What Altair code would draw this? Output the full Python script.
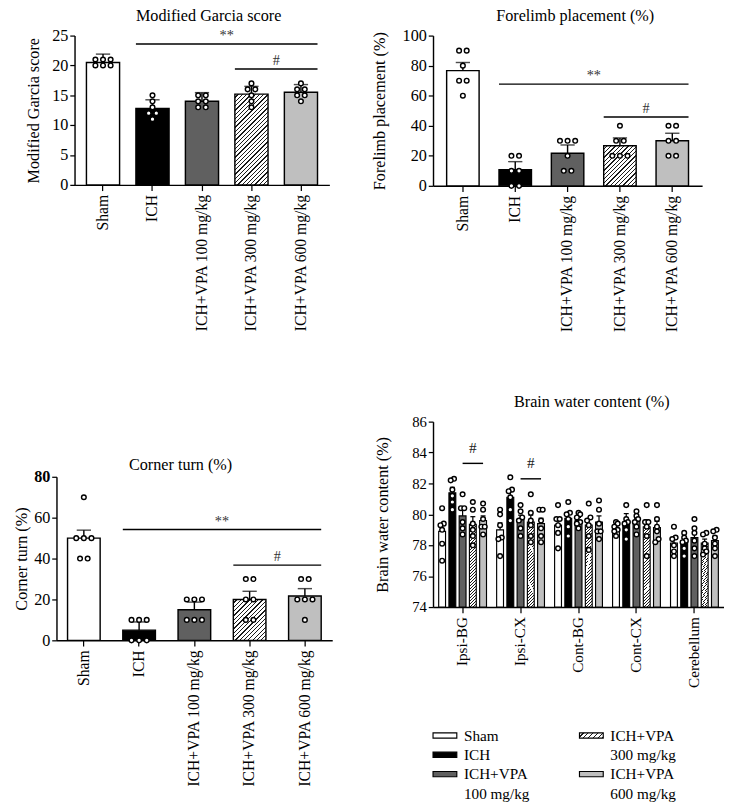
import altair as alt
import pandas as pd

FONT = "Liberation Serif"
GROUPS = ["Sham", "ICH", "ICH+VPA 100 mg/kg", "ICH+VPA 300 mg/kg", "ICH+VPA 600 mg/kg"]
GRAY = "#606060"
DOT = "#bfbfbf"

# ---- Modified Garcia score ----
garcia_ticks = [0, 5, 10, 15, 20, 25]
garcia_means = [20.5, 12.8, 14.0, 15.2, 15.5]
garcia_errs = [1.4, 1.45, 1.45, 1.3, 1.3]
garcia_points = [[21, 21, 21, 20, 20, 20], [15, 14, 13, 12, 12, 11], [15, 15, 14, 14, 13, 13],
                 [17, 16, 16, 15, 14, 13], [17, 16, 16, 15, 15, 14]]
garcia_marks = [("ICH", "ICH+VPA 600 mg/kg", 23.6, "**"), ("ICH+VPA 300 mg/kg", "ICH+VPA 600 mg/kg", 19.4, "#")]

# ---- Forelimb placement ----
forelimb_ticks = [0, 20, 40, 60, 80, 100]
forelimb_means = [76.7, 10.7, 21.7, 26.7, 30.0]
forelimb_errs = [5.4, 5.4, 5.5, 5.2, 5.0]
forelimb_points = [[90, 90, 80, 70, 70, 60], [20, 20, 10, 10, 0, 0], [30, 30, 30, 20, 10, 10],
                   [40, 30, 30, 20, 20, 20], [40, 40, 30, 30, 20, 20]]
forelimb_marks = [("ICH", "ICH+VPA 600 mg/kg", 67.7, "**"), ("ICH+VPA 300 mg/kg", "ICH+VPA 600 mg/kg", 45.8, "#")]

# ---- Corner turn ----
corner_ticks = [0, 20, 40, 60, 80]
corner_means = [50.0, 5.0, 15.0, 20.0, 21.7]
corner_errs = [3.9, 4.0, 3.7, 4.0, 3.6]
corner_points = [[70, 50, 50, 50, 40, 40], [10, 10, 10, 0, 0, 0], [20, 20, 20, 10, 10, 10],
                 [30, 30, 20, 20, 10, 10], [30, 30, 20, 20, 20, 10]]
corner_marks = [("ICH", "ICH+VPA 600 mg/kg", 54.2, "**"), ("ICH+VPA 300 mg/kg", "ICH+VPA 600 mg/kg", 36.8, "#")]

# ---- Brain water content ----
regions = ["Ipsi-BG", "Ipsi-CX", "Cont-BG", "Cont-CX", "Cerebellum"]
bwc_ticks = [74, 76, 78, 80, 82, 84, 86]
ipsi_bg_means = [78.9, 81.4, 79.9, 79.35, 79.6]
ipsi_cx_means = [79.0, 81.1, 79.65, 79.5, 79.4]
cont_bg_means = [79.3, 79.75, 79.6, 79.3, 79.5]
cont_cx_means = [79.1, 79.45, 79.55, 79.2, 79.15]
cereb_means = [78.15, 78.2, 78.5, 78.15, 78.3]
ipsi_bg_errs = [0.5, 0.35, 0.4, 0.5, 0.3]
ipsi_cx_errs = [0.45, 0.4, 0.3, 0.45, 0.35]
cont_bg_errs = [0.4, 0.3, 0.2, 0.4, 0.4]
cont_cx_errs = [0.15, 0.6, 0.2, 0.45, 0.4]
cereb_errs = [0.3, 0.25, 0.35, 0.25, 0.3]
ipsi_bg_points = [[80.4, 79.4, 79.3, 79.0, 78.1, 77.0], [82.3, 82.2, 81.6, 81.2, 80.8, 80.3],
                  [81.3, 80.4, 80.4, 79.5, 79.1, 78.7], [80.8, 80.3, 79.4, 79.0, 78.6, 78.0],
                  [80.7, 80.3, 79.7, 79.2, 79.2, 78.7]]
ipsi_cx_points = [[80.3, 80.0, 79.3, 78.5, 78.4, 77.3], [82.4, 81.6, 81.5, 81.1, 80.3, 79.6],
                  [80.6, 80.2, 79.8, 79.6, 79.1, 78.6], [81.3, 80.1, 79.6, 79.3, 78.6, 78.2],
                  [80.3, 80.3, 79.6, 79.1, 78.6, 78.2]]
cont_bg_points = [[80.6, 79.7, 79.7, 79.3, 78.8, 77.8], [80.8, 80.1, 80.0, 79.7, 79.2, 78.6],
                  [80.1, 80.0, 79.8, 79.5, 79.4, 79.1], [80.7, 79.8, 79.6, 79.3, 78.6, 77.7],
                  [80.9, 80.3, 79.4, 78.9, 78.9, 78.4]]
cont_cx_points = [[79.5, 79.4, 79.2, 79.0, 78.9, 78.6], [80.6, 79.7, 79.5, 79.4, 79.0, 78.4],
                  [80.2, 79.9, 79.7, 79.5, 79.2, 78.7], [80.6, 79.5, 79.5, 79.2, 78.6, 77.3],
                  [80.6, 79.7, 79.2, 78.9, 78.4, 78.2]]
cereb_points = [[79.2, 78.5, 78.4, 78.0, 77.6, 77.3], [78.8, 78.5, 78.3, 78.2, 77.8, 77.3],
                [79.7, 79.1, 78.8, 78.3, 77.8, 77.3], [78.8, 78.7, 78.1, 77.8, 77.6, 77.4],
                [79.0, 78.9, 78.5, 78.1, 77.8, 77.3]]
bwc_marks = [("Ipsi-BG", "ICH+VPA 100 mg/kg", "ICH+VPA 600 mg/kg", 83.3, "#"),
             ("Ipsi-CX", "ICH+VPA 100 mg/kg", "ICH+VPA 600 mg/kg", 82.3, "#")]

bwc_means = [ipsi_bg_means, ipsi_cx_means, cont_bg_means, cont_cx_means, cereb_means]
bwc_errs = [ipsi_bg_errs, ipsi_cx_errs, cont_bg_errs, cont_cx_errs, cereb_errs]
bwc_points = [ipsi_bg_points, ipsi_cx_points, cont_bg_points, cont_cx_points, cereb_points]


# ---------------- helpers ----------------
def hatch(w, h, spacing, frac=0.3, dark="#1a1a1a"):
    r = h / w
    k = (1 + r) / (1 + r * r)
    n = max(2, round(w * (1 + r) / spacing))
    stops = []
    for i in range(n):
        a, b, c = i / n, (i + 1 - frac) / n, (i + 1) / n
        stops += [{"offset": round(a, 5), "color": "#ffffff"}, {"offset": round(b, 5), "color": "#ffffff"},
                  {"offset": round(b, 5), "color": dark}, {"offset": round(c, 5), "color": dark}]
    return {"gradient": "linear", "x1": 0, "y1": 0, "x2": round(k, 5), "y2": round(k * r, 5), "stops": stops}


def fill_cond(grad):
    d = alt.datum.group
    return (alt.when(d == GROUPS[0]).then(alt.value("white"))
            .when(d == GROUPS[1]).then(alt.value("black"))
            .when(d == GROUPS[2]).then(alt.value(GRAY))
            .when(d == GROUPS[3]).then(alt.value(grad))
            .otherwise(alt.value(DOT)))


def spread(vals, tol, step):
    idx = sorted(range(len(vals)), key=lambda i: vals[i])
    clusters = []
    for i in idx:
        if clusters and vals[i] - vals[clusters[-1][0]] <= tol + 1e-9:
            clusters[-1].append(i)
        else:
            clusters.append([i])
    off = [0.0] * len(vals)
    for c in clusters:
        m = len(c)
        for k, i in enumerate(c):
            off[i] = (k - (m - 1) / 2) * step
    return off


def x_axis(size=16.5):
    return alt.Axis(title=None, labelAngle=270, labelFont=FONT, labelFontSize=size, labelColor="black",
                    labelPadding=4, tickSize=6, tickColor="black", tickWidth=1.3, domainColor="black",
                    domainWidth=1.5, grid=False, labelLimit=300)


def y_axis(title, values, tpad, size=17, bold_top=False, offset=0):
    kw = dict(title=title, values=values, titleFont=FONT, titleFontSize=17, titleFontWeight="normal",
              titleColor="black", titlePadding=tpad, labelFont=FONT, labelFontSize=size, labelColor="black",
              labelPadding=2, tickSize=5, tickColor="black", tickWidth=1.3, domainColor="black",
              domainWidth=1.5, grid=False, offset=offset)
    if bold_top:
        kw["labelFontWeight"] = {"condition": {"test": f"datum.value == {values[-1]}", "value": "bold"},
                                 "value": "normal"}
    return alt.Axis(**kw)


def title_params(text, dx, offset):
    return alt.TitleParams(text=text, font=FONT, fontSize=17, fontWeight="normal", color="black",
                           anchor="middle", frame="group", offset=offset, dx=dx)


POINT = dict(shape="circle", filled=True, fill="white", stroke="black", strokeWidth=1.5, size=24, opacity=1)


def panel(title, ytitle, ticks, means, errs, pts, marks, W, H, pi, po, tpad, tdx, toff,
          spacer=None, bold_top=False, shift=0):
    n = len(GROUPS)
    hw = (1 - pi) / 2
    a = -(po + hw)
    b = a + (n - pi + 2 * po)
    span = W + shift
    step_px = span / (n - pi + 2 * po)
    xband = alt.Scale(domain=GROUPS, paddingInner=pi, paddingOuter=po, range=[-shift, W])
    xlin = alt.Scale(domain=[a, b], nice=False, zero=False, range=[-shift, W])
    yscale = alt.Scale(domain=[ticks[0], ticks[-1]], nice=False)
    ya = y_axis(ytitle, ticks, tpad, bold_top=bold_top, offset=shift)
    grad = hatch(step_px * (1 - pi), (means[3] - ticks[0]) / (ticks[-1] - ticks[0]) * H, 4.5)

    bar_df = pd.DataFrame({"group": GROUPS, "mean": means, "top": [m + e for m, e in zip(means, errs)]})
    rows = []
    for gi, (g, vals) in enumerate(zip(GROUPS, pts)):
        for v, o in zip(vals, spread(vals, 0, 8 / step_px)):
            rows.append({"group": g, "value": v, "xpos": gi + o})
    pt_df = pd.DataFrame(rows)
    ann = []
    for f, t, y, lab in marks:
        x0, x1 = GROUPS.index(f) - hw, GROUPS.index(t) + hw
        ann.append({"x0": x0, "x1": x1, "xm": (x0 + x1) / 2, "y": y, "label": lab})
    ann_df = pd.DataFrame(ann)

    X = alt.X("group:N", scale=xband, sort=GROUPS, axis=x_axis())
    bars = alt.Chart(bar_df).mark_bar(stroke="black", strokeWidth=1.5).encode(
        x=X, y=alt.Y("mean:Q", scale=yscale, axis=ya), fill=fill_cond(grad))
    err = alt.Chart(bar_df).mark_rule(color="black", strokeWidth=1.5).encode(
        x=X, y=alt.Y("mean:Q", scale=yscale, axis=ya), y2="top:Q")
    caps = alt.Chart(bar_df).mark_tick(color="black", thickness=1.5, size=15).encode(
        x=X, y=alt.Y("top:Q", scale=yscale, axis=ya))
    main = alt.layer(bars, err, caps)

    points = alt.Chart(pt_df).mark_point(**POINT).encode(
        x=alt.X("xpos:Q", scale=xlin, axis=None), y=alt.Y("value:Q", scale=yscale, axis=ya))
    lines = alt.Chart(ann_df).mark_rule(color="black", strokeWidth=1.5).encode(
        x=alt.X("x0:Q", scale=xlin, axis=None), x2="x1:Q", y=alt.Y("y:Q", scale=yscale, axis=ya))
    texts = alt.Chart(ann_df).mark_text(font=FONT, fontSize=15, baseline="alphabetic", dy=-4,
                                        color="#333").encode(
        x=alt.X("xm:Q", scale=xlin, axis=None), y=alt.Y("y:Q", scale=yscale, axis=ya), text="label:N")
    over_layers = [points, lines, texts]
    if spacer is not None:
        over_layers.append(alt.Chart(pd.DataFrame({"s": [0]})).mark_text(
            text=".", opacity=0, align="left", font=FONT).encode(x=alt.value(spacer), y=alt.value(0)))
    over = alt.layer(*over_layers)
    return (alt.layer(main, over).resolve_scale(x="independent")
            .properties(width=W, height=H, title=title_params(title, tdx, toff)))


p1 = panel("Modified Garcia score", "Modified Garcia score", garcia_ticks, garcia_means, garcia_errs,
           garcia_points, garcia_marks, 268, 157, 0.33, 0.24, 10, 7, 2, spacer=-64)
p2 = panel("Forelimb placement (%)", "Forelimb placement (%)", forelimb_ticks, forelimb_means, forelimb_errs,
           forelimb_points, forelimb_marks, 283, 158, 0.38, 0.26, 15, 8, 2)
p3 = panel("Corner turn (%)", "Corner turn (%)", corner_ticks, corner_means, corner_errs,
           corner_points, corner_marks, 271, 172, 0.41, 0.20, 3.5, -24, -6, bold_top=True, shift=19)

# ---------------- Brain water content panel ----------------
W4, H4 = 306, 195
pir, por = 0.12, 0.07
pig, pog = 0.33, 0.155
nr = len(regions)
step_r = W4 / (nr - pir + 2 * por)
kg = (1 - pir) / (len(GROUPS) - pig + 2 * pog)
a4 = -(por + (1 - pir) / 2)
b4 = a4 + (nr - pir + 2 * por)
xlin4 = alt.Scale(domain=[a4, b4], nice=False, zero=False)
y4 = alt.Scale(domain=[bwc_ticks[0], bwc_ticks[-1]], nice=False, zero=False)
ya4 = y_axis("Brain water content (%)", bwc_ticks, 21, size=15.5)
bar_w4 = step_r * kg * (1 - pig)
grad4 = hatch(bar_w4, (sum(m[3] for m in bwc_means) / nr - bwc_ticks[0]) / (bwc_ticks[-1] - bwc_ticks[0]) * H4, 3.0)

bar_rows, pt_rows = [], []
cap_hw = 2.6 / step_r
for ri, r in enumerate(regions):
    for gi, g in enumerate(GROUPS):
        xc = ri + (gi - 2) * kg
        m, e = bwc_means[ri][gi], bwc_errs[ri][gi]
        bar_rows.append({"region": r, "group": g, "mean": m, "top": m + e, "xc": xc,
                         "c0": xc - cap_hw, "c1": xc + cap_hw})
        vals = bwc_points[ri][gi]
        for v, o in zip(vals, spread(vals, 0.2, 3.5 / step_r)):
            pt_rows.append({"region": r, "group": g, "value": v, "xpos": xc + o})
bar4 = pd.DataFrame(bar_rows)
pts4 = pd.DataFrame(pt_rows)
ann4 = []
for r, gf, gt, y, lab in bwc_marks:
    ri = regions.index(r)
    x0 = ri + (GROUPS.index(gf) - 2) * kg
    x1 = ri + (GROUPS.index(gt) - 2) * kg
    ann4.append({"x0": x0, "x1": x1, "xm": (x0 + x1) / 2, "y": y, "label": lab})
ann4 = pd.DataFrame(ann4)

bars4 = alt.Chart(bar4).mark_bar(stroke="black", strokeWidth=1.2).encode(
    x=alt.X("region:N", sort=regions, scale=alt.Scale(domain=regions, paddingInner=pir, paddingOuter=por),
            axis=x_axis(16)),
    xOffset=alt.XOffset("group:N", sort=GROUPS, scale=alt.Scale(domain=GROUPS, paddingInner=pig, paddingOuter=pog)),
    y=alt.Y("mean:Q", scale=y4, axis=ya4), y2=alt.datum(bwc_ticks[0]),
    fill=fill_cond(grad4))
XL4 = lambda f: alt.X(f, scale=xlin4, axis=None)
err4 = alt.Chart(bar4).mark_rule(color="black", strokeWidth=1.3).encode(
    x=XL4("xc:Q"), y=alt.Y("mean:Q", scale=y4, axis=ya4), y2="top:Q")
cap4 = alt.Chart(bar4).mark_rule(color="black", strokeWidth=1.3).encode(
    x=XL4("c0:Q"), x2="c1:Q", y=alt.Y("top:Q", scale=y4, axis=ya4))
pt4 = alt.Chart(pts4).mark_point(**POINT).encode(x=XL4("xpos:Q"), y=alt.Y("value:Q", scale=y4, axis=ya4))
line4 = alt.Chart(ann4).mark_rule(color="black", strokeWidth=1.5).encode(
    x=XL4("x0:Q"), x2="x1:Q", y=alt.Y("y:Q", scale=y4, axis=ya4))
text4 = alt.Chart(ann4).mark_text(font=FONT, fontSize=16, baseline="alphabetic", dy=-11, color="#222").encode(
    x=XL4("xm:Q"), y=alt.Y("y:Q", scale=y4, axis=ya4), text="label:N")
main4 = alt.layer(bars4, alt.layer(err4, cap4, pt4, line4, text4)).resolve_scale(x="independent")

# legend (two columns, multi-line labels)
leg_rows = []
split_at = 3
for i, g in enumerate(GROUPS):
    lines_ = g.split(" ", 1) if "VPA" in g else [g]
    leg_rows.append({"group": g, "col": 0 if i < split_at else 1, "text": "\n".join(lines_), "nl": len(lines_)})
row_acc = {0: 0, 1: 0}
for rw in leg_rows:
    rw["row"] = row_acc[rw["col"]]
    row_acc[rw["col"]] += rw["nl"]
leg_df = pd.DataFrame(leg_rows)
leg_grad = hatch(25, 5.5, 5.0)
LX = alt.X("col:Q", scale=alt.Scale(domain=[0, 1], range=[12.5, 166.5]), axis=None)
LY = alt.Y("row:Q", scale=alt.Scale(domain=[0, 3], range=[330, 391]), axis=None)
leg_sym = alt.Chart(leg_df).mark_point(shape="M-1,-0.22H1V0.22H-1Z", size=625, filled=True, stroke="black",
                                       strokeWidth=1.2, opacity=1).encode(x=LX, y=LY, fill=fill_cond(leg_grad))
leg_txt = alt.Chart(leg_df).mark_text(font=FONT, fontSize=16, align="left", baseline="alphabetic", dx=20, dy=5.5,
                                      lineHeight=20.5, lineBreak="\n", color="black").encode(x=LX, y=LY, text="text:N")
legend = alt.layer(leg_sym, leg_txt)

p4 = (alt.layer(main4, legend).resolve_scale(x="independent", y="independent")
      .properties(width=W4, height=H4, title=title_params("Brain water content (%)", 14, 4.75)))

left = alt.vconcat(p1, p3, spacing=131)
right = alt.vconcat(p2, p4, spacing=63)
chart = (alt.hconcat(left, right, spacing=21)
         .configure_view(stroke=None)
         .properties(padding={"left": 5, "top": -21, "right": 0, "bottom": 0}))

chart.save("out.html", embed_options={"renderer": "svg", "actions": False})
